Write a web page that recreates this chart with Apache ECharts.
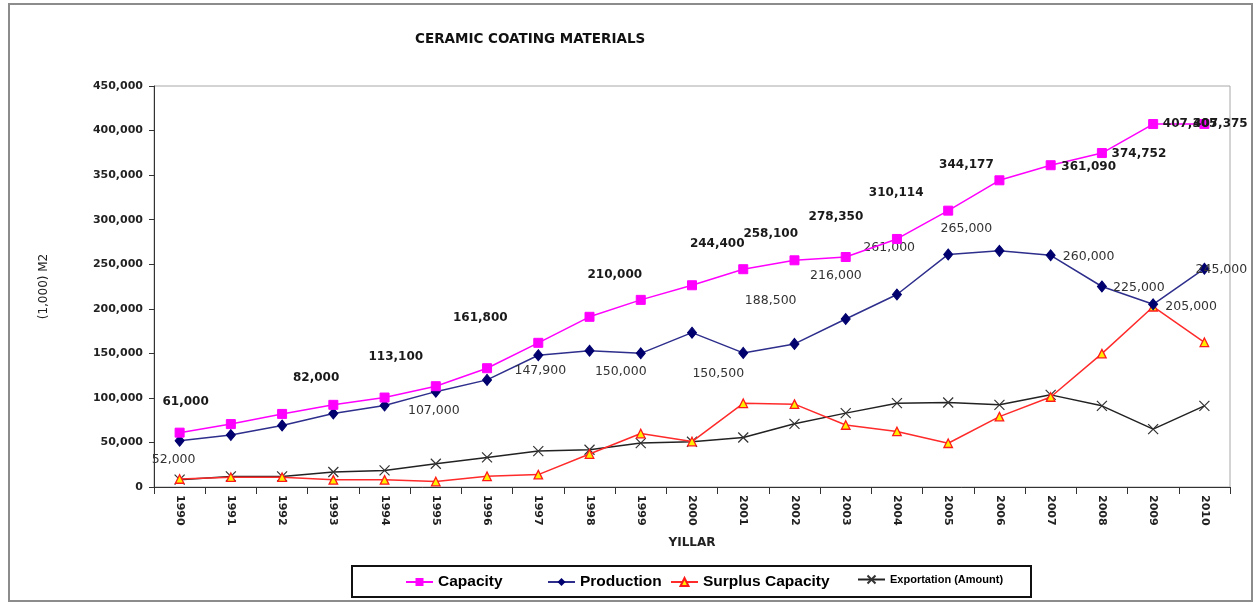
<!DOCTYPE html>
<html>
<head>
<meta charset="utf-8">
<script src="https://cdn.jsdelivr.net/npm/echarts@6/dist/echarts.min.js"></script>
<style>
html,body{margin:0;padding:0;background:#fff;}
#chart{width:1258px;height:605px;}
</style>
</head>
<body>
<div id="chart"></div>
<script>
// ---- data ----
const years = ['1990','1991','1992','1993','1994','1995','1996','1997','1998','1999','2000','2001','2002','2003','2004','2005','2006','2007','2008','2009','2010'];
const capacity = [61000, 70600, 82000, 92200, 100400, 113100, 133300, 161800, 191000, 210000, 226400, 244400, 254400, 258100, 278350, 310114, 344177, 361090, 374752, 407305, 407375];
const production = [52000, 58300, 69000, 82500, 91400, 107000, 120200, 147900, 153000, 150000, 173200, 150500, 160600, 188500, 216000, 261000, 265000, 260000, 225000, 205000, 245000];
const surplus = [9000, 11000, 11000, 8000, 8000, 6100, 12000, 13900, 37000, 60000, 51000, 93900, 93000, 69600, 62350, 49100, 79000, 101000, 149700, 202300, 162400];
const exportation = [8200, 11900, 11900, 16800, 18600, 26100, 33200, 40300, 41800, 49300, 50800, 55600, 70900, 82900, 94100, 94800, 92200, 103400, 91100, 65000, 91100];
const yTicks = [0, 50000, 100000, 150000, 200000, 250000, 300000, 350000, 400000, 450000];

// ---- label placement (style only) ----
const capacityLabelOffsets = {
  '1990':[6,-31], '1992':[34,-36], '1995':[-40,-29], '1997':[-58,-25], '1999':[-26,-25],
  '2001':[-26,-25], '2003':[-75,-23], '2004':[-61,-22], '2005':[-52,-18], '2006':[-33,-15],
  '2007':[38,2], '2008':[37,1], '2009':[37,0], '2010':[16,0]
};
const productionLabelOffsets = {
  '1990':[-6,19], '1995':[-2,19], '1997':[2,16], '1999':[-20,18], '2001':[-25,21],
  '2003':[-75,-18], '2004':[-61,-19], '2005':[-59,-7], '2006':[-33,-22],
  '2007':[38,1], '2008':[37,1], '2009':[38,2], '2010':[17,1]
};

const fmt = v => Number(v).toLocaleString('en-US');

function withLabels(values, offsets, labelStyle) {
  return values.map((v, i) => {
    const off = offsets[years[i]];
    if (!off) return v;
    return {
      value: v,
      label: Object.assign({ show: true, position: 'inside', offset: off, formatter: p => fmt(p.value) }, labelStyle)
    };
  });
}

const boldLabel = { fontFamily: 'DejaVu Sans', fontWeight: 'bold', fontSize: 12, color: '#1a1a1a' };
const normalLabel = { fontFamily: 'DejaVu Sans', fontWeight: 'normal', fontSize: 12.5, color: '#333' };

const chart = echarts.init(document.getElementById('chart'), null, { renderer: 'canvas' });

const legendBase = {
  top: 574, itemWidth: 27, itemHeight: 10, padding: 0, itemGap: 0,
  textStyle: { fontFamily: 'Liberation Sans', fontWeight: 'bold', fontSize: 15.5, color: '#000' }
};

const option = {
  backgroundColor: '#fff',
  animation: false,
  title: {
    text: 'CERAMIC COATING MATERIALS',
    left: 410, top: 27,
    textStyle: { fontFamily: 'DejaVu Sans', fontWeight: 'bold', fontSize: 13.5, color: '#111' }
  },
  legend: [
    Object.assign({}, legendBase, { left: 405, data: ['Capacity'] }),
    Object.assign({}, legendBase, { left: 547, data: ['Production'] }),
    Object.assign({}, legendBase, { left: 670, data: ['Surplus Capacity'] }),
    Object.assign({}, legendBase, { left: 857, data: ['Exportation (Amount)'],
      textStyle: { fontFamily: 'Liberation Sans', fontWeight: 'bold', fontSize: 11, color: '#000', padding: [0,0,10,0] } })
  ],
  grid: {
    left: 154, right: 28, top: 86, bottom: 118,
    show: true, borderColor: '#a8a8a8', borderWidth: 1, backgroundColor: 'transparent'
  },
  xAxis: {
    type: 'category',
    data: years,
    boundaryGap: true,
    name: 'YILLAR',
    nameLocation: 'middle',
    nameGap: 50,
    nameTextStyle: { fontFamily: 'DejaVu Sans', fontWeight: 'bold', fontSize: 12, color: '#222' },
    axisLine: { lineStyle: { color: '#333', width: 1 } },
    axisTick: { show: true, inside: false, length: 7, lineStyle: { color: '#333' } },
    axisLabel: { rotate: -90, margin: 8, fontFamily: 'DejaVu Sans', fontWeight: 'bold', fontSize: 11, color: '#222' },
    splitLine: { show: false }
  },
  yAxis: {
    type: 'value',
    min: yTicks[0], max: yTicks[yTicks.length - 1], interval: yTicks[1] - yTicks[0],
    name: '(1,000) M2',
    nameLocation: 'middle',
    nameGap: 104,
    nameRotate: 90,
    nameTextStyle: { fontFamily: 'DejaVu Sans', fontSize: 12, color: '#222' },
    axisLine: { show: true, lineStyle: { color: '#333', width: 1 } },
    axisTick: { show: true, inside: false, length: 5, lineStyle: { color: '#333' } },
    axisLabel: { margin: 11, fontFamily: 'DejaVu Sans', fontWeight: 'bold', fontSize: 11, color: '#222', formatter: v => fmt(v) },
    splitLine: { show: false }
  },
  graphic: [
    { type: 'rect', shape: { x: 9, y: 4, width: 1243, height: 597 }, style: { fill: 'none', stroke: '#8c8c8c', lineWidth: 2 }, silent: true, z: -1 },
    { type: 'rect', shape: { x: 352, y: 566, width: 679, height: 31 }, style: { fill: 'none', stroke: '#111', lineWidth: 2 }, silent: true }
  ],
  series: [
    {
      name: 'Exportation (Amount)', type: 'line',
      data: exportation,
      symbol: 'path://M0,0 L10,10 M10,0 L0,10', symbolSize: 10,
      itemStyle: { color: 'rgba(0,0,0,0)', borderColor: '#333', borderWidth: 1.2 },
      lineStyle: { color: '#222', width: 1.5 },
      z: 2
    },
    {
      name: 'Surplus Capacity', type: 'line',
      data: surplus,
      symbol: 'triangle', symbolSize: 8.5,
      itemStyle: { color: '#ffee00', borderColor: '#ff1a1a', borderWidth: 1.3 },
      lineStyle: { color: '#ff2a2a', width: 1.5 },
      z: 3
    },
    {
      name: 'Production', type: 'line',
      data: withLabels(production, productionLabelOffsets, normalLabel),
      symbol: 'diamond', symbolSize: [9, 11],
      itemStyle: { color: '#00006e', borderColor: '#00006e' },
      lineStyle: { color: '#2e2e8c', width: 1.5 },
      z: 4
    },
    {
      name: 'Capacity', type: 'line',
      data: withLabels(capacity, capacityLabelOffsets, boldLabel),
      symbol: 'rect', symbolSize: 9,
      itemStyle: { color: '#ff00ff', borderColor: '#ff00ff' },
      lineStyle: { color: '#ff00ff', width: 1.5 },
      z: 5
    }
  ]
};

chart.setOption(option);
</script>
</body>
</html>
